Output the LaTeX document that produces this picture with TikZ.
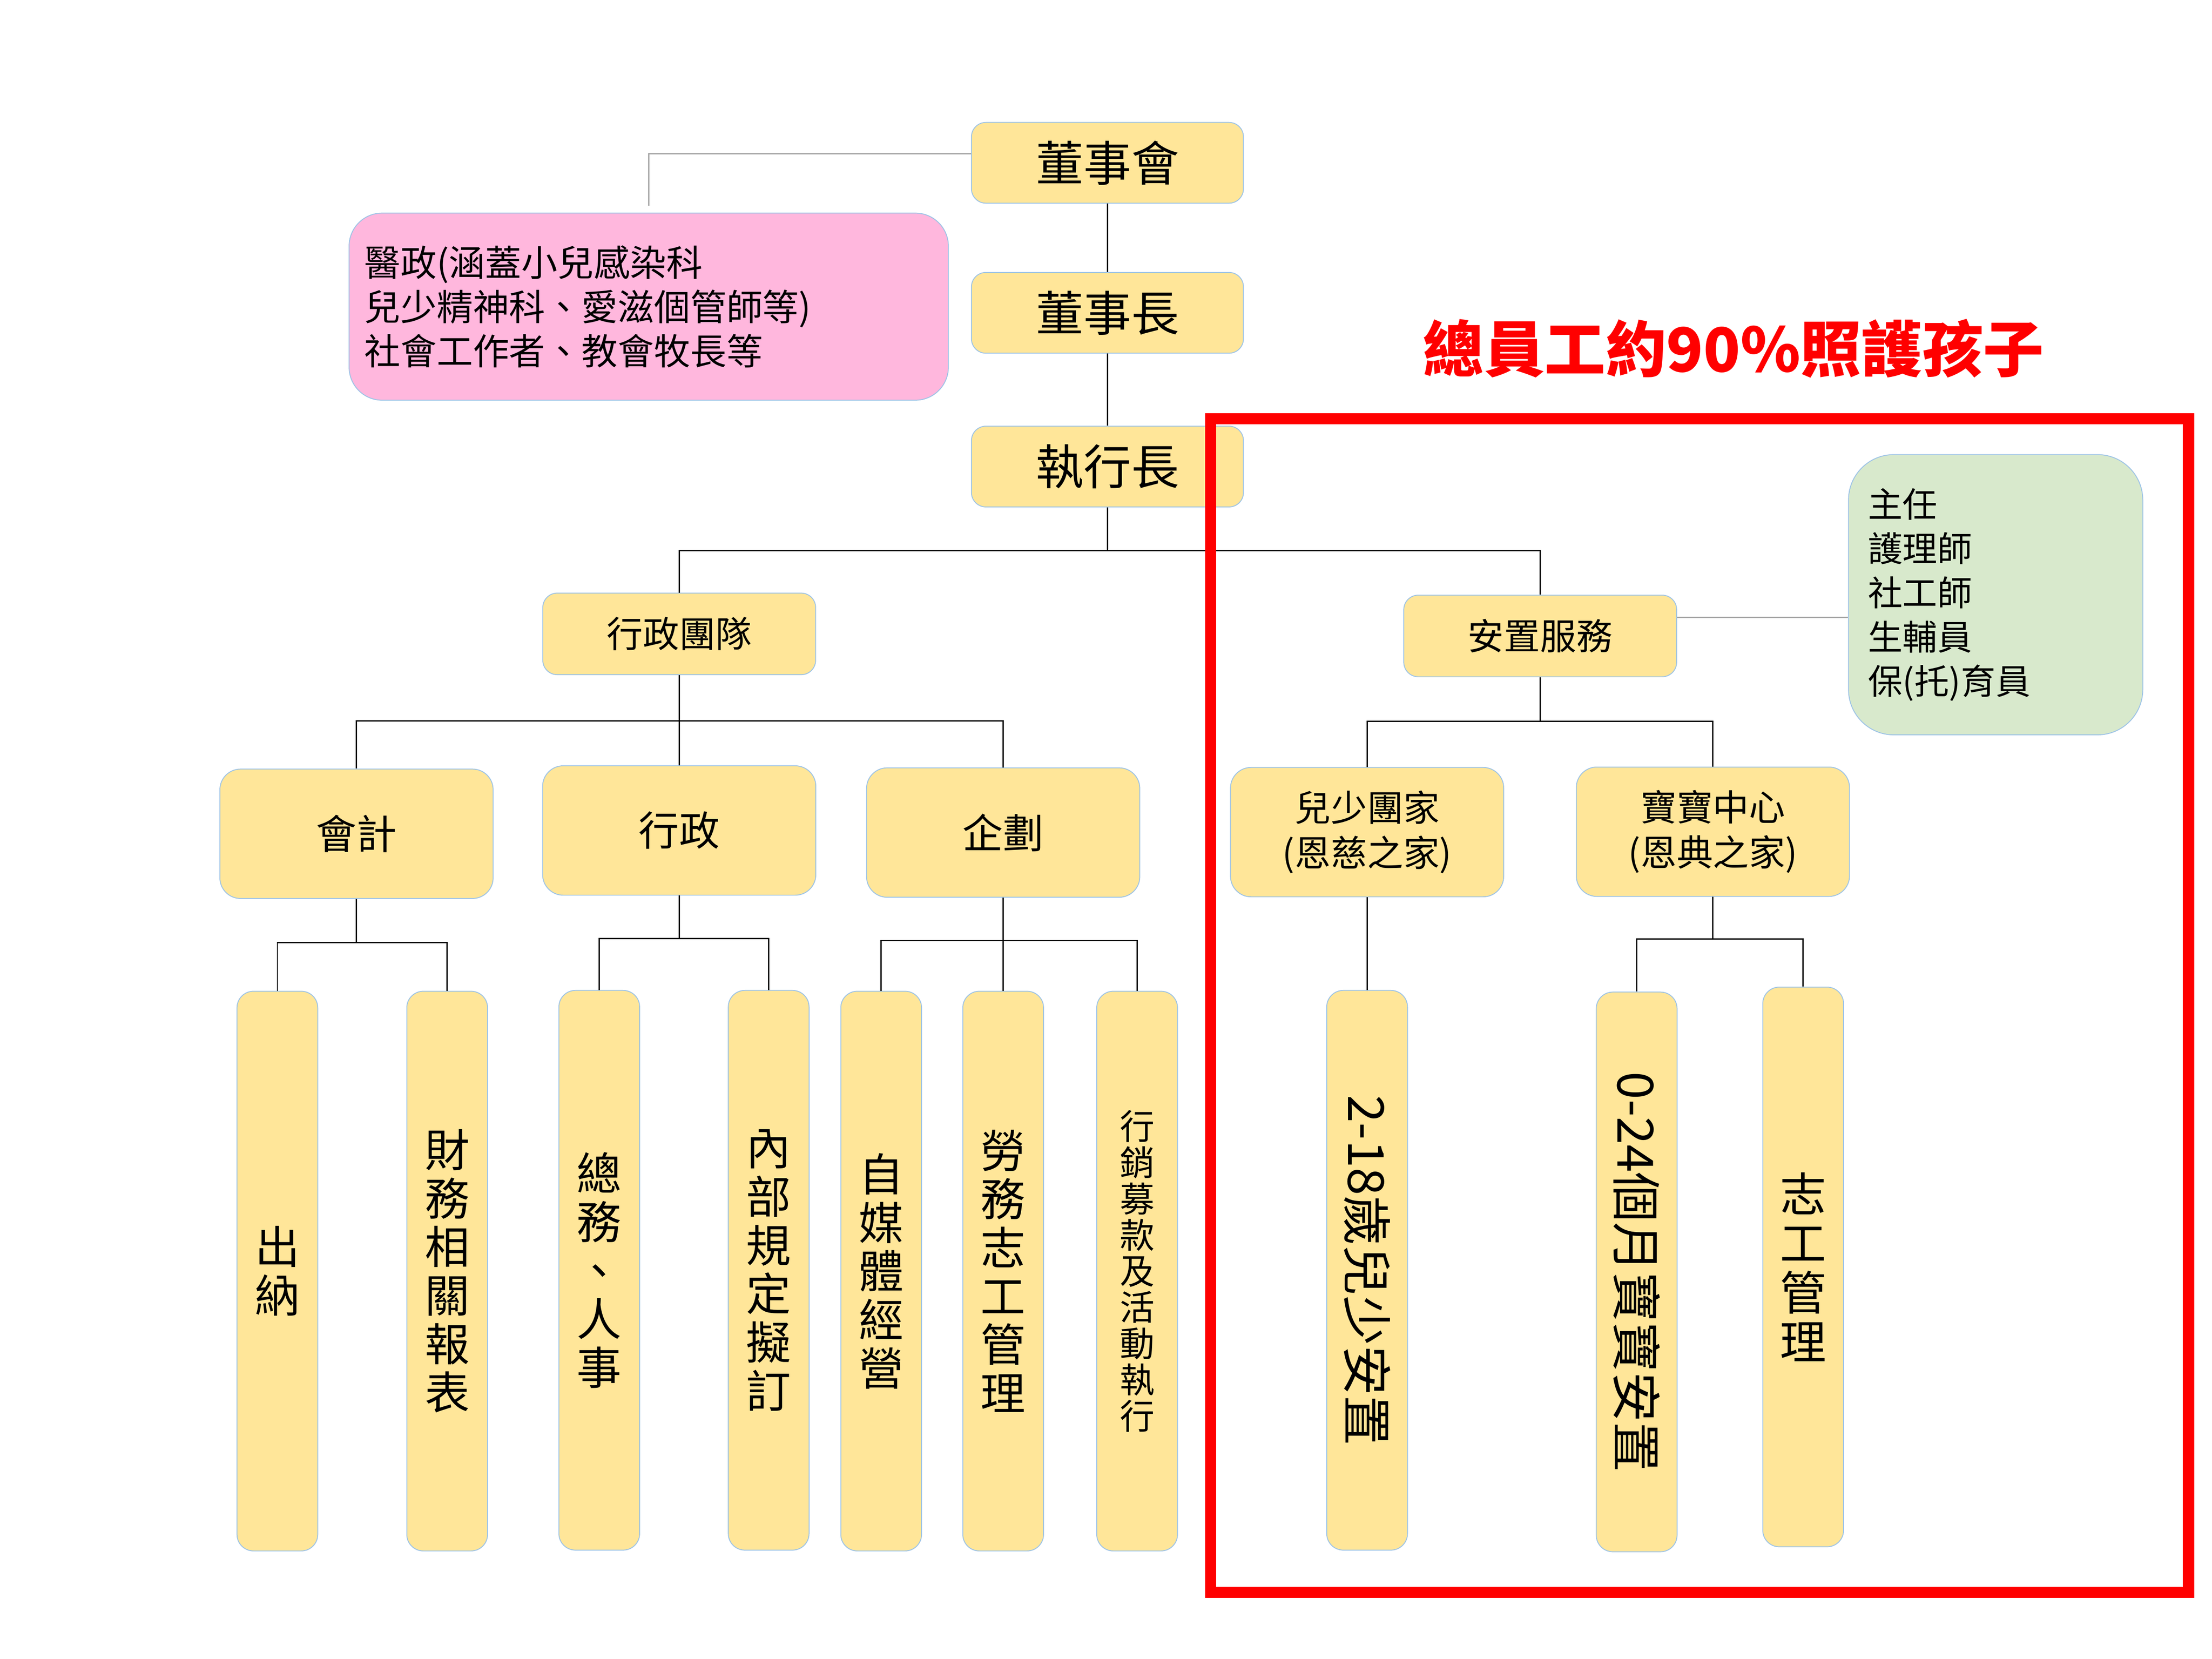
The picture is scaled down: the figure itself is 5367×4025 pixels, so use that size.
\documentclass[tikz,border=0pt]{standalone}
\usepackage{fontspec}
\setmainfont{Noto Sans CJK TC}

\definecolor{boxfill}{HTML}{FFE699}
\definecolor{boxedge}{HTML}{9DC3E6}
\definecolor{pinkfill}{HTML}{FFB7DD}
\definecolor{greenfill}{HTML}{D8E9CC}
\definecolor{linkgrey}{HTML}{A6A6A6}

\newcommand{\setfs}[2]{\fontsize{#1}{#2}\selectfont}

\begin{document}
\begin{tikzpicture}[
            x = 0.1mm, y = -0.1mm, % one unit = one pixel of the layout
            line width = 0.9pt % connector width
        ]

        \tikzstyle{unitbox}=[
            draw = boxedge,
            line width = 0.6pt,
            fill = boxfill,
            rounded corners = 3.5mm,
            inner sep = 0pt
        ]
        \tikzstyle{chiefbox}=[unitbox, minimum width = 66mm, minimum height = 19.6mm, font = \setfs{33}{36}]
        \tikzstyle{teambox}=[unitbox, minimum width = 66.2mm, minimum height = 19.8mm, font = \setfs{25}{30}]
        \tikzstyle{deptbox}=[unitbox, minimum width = 66.3mm, minimum height = 31.4mm, rounded corners = 5mm, align = center, font = \setfs{28}{31}]
        \tikzstyle{leafbox}=[unitbox, minimum width = 19.6mm, minimum height = 135.8mm, rounded corners = 4mm, align = center, font = \setfs{31}{33.5}]
        \tikzstyle{turnedbox}=[unitbox, rotate = -90, minimum width = 135.8mm, minimum height = 19.6mm, rounded corners = 4mm, font = \setfs{34.5}{36}]
        \tikzstyle{link}=[draw = black]
        \tikzstyle{greylink}=[draw = linkgrey]

        \useasboundingbox (0,0) rectangle (5367,4025);

        % top of the tree
        \node[chiefbox] (board) at (2687,395)  {董事會};
        \node[chiefbox] (chair) at (2687,759)  {董事長};
        \node[chiefbox] (ceo)   at (2687,1132) {執行長};

        \node[unitbox, fill = pinkfill, rounded corners = 8mm, minimum height = 45.4mm,
              text width = 138mm, inner xsep = 3.7mm, align = left, font = \setfs{25}{30.5}]
              (medical) at (1574,744) {醫政(涵蓋小兒感染科\\兒少精神科、愛滋個管師等)\\社會工作者、教會牧長等};

        \node[teambox] (admin) at (1648,1538) {行政團隊};
        \node[teambox] (place) at (3737,1543) {安置服務};

        \node[unitbox, fill = greenfill, rounded corners = 11mm, minimum height = 68mm,
              text width = 62mm, inner xsep = 4.7mm, align = left, font = \setfs{24}{30.5}]
              (care) at (4842,1443) {主任\\護理師\\社工師\\生輔員\\保(托)育員};

        % departments
        \node[deptbox] (acct)   at (865,2023)  {會計};
        \node[deptbox] (office) at (1648,2015) {行政};
        \node[deptbox] (plan)   at (2434,2020) {企劃};
        \node[deptbox, font = \setfs{25}{31}] (youth) at (3317,2019) {兒少團家\\(恩慈之家)};
        \node[deptbox, font = \setfs{25}{31}] (baby)  at (4156,2018) {寶寶中心\\(恩典之家)};

        % leaves
        \node[leafbox] (cash)    at (673,3084)  {出\\納};
        \node[leafbox] (finance) at (1085,3084) {財\\務\\相\\關\\報\\表};
        \node[leafbox] (general) at (1454,3082) {總\\務\\、\\人\\事};
        \node[leafbox] (rules)   at (1865,3082) {內\\部\\規\\定\\擬\\訂};
        \node[leafbox] (media)   at (2138,3084) {自\\媒\\體\\經\\營};
        \node[leafbox] (labor)   at (2434,3084) {勞\\務\\志\\工\\管\\理};
        \node[leafbox, font = \setfs{24}{25}] (market) at (2759,3084) {行\\銷\\募\\款\\及\\活\\動\\執\\行};
        \node[turnedbox] (teen)   at (3317,3082) {2-18歲兒少安置};
        \node[turnedbox] (infant) at (3971,3086) {0-24個月寶寶安置};
        \node[leafbox, font = \setfs{32}{34}] (volunteer) at (4375,3074) {志\\工\\管\\理};

        % bus levels
        \coordinate (ceobus)   at (2687,1336);
        \coordinate (adminbus) at (1648,1749);
        \coordinate (placebus) at (3737,1750);
        \coordinate (acctbus)  at (865,2287);
        \coordinate (officebus) at (1648,2277);
        \coordinate (planbus)  at (2434,2282);
        \coordinate (babybus)  at (4156,2278);

        \path[link] (board) edge (chair);
        \path[link] (chair) edge (ceo);
        \draw[greylink] ([yshift=2.2mm]board.west) -| ([yshift=1.7mm]medical.north);

        \draw[link] (ceo.south) -- (ceobus);
        \draw[link] (admin.north) |- (ceobus) -| (place.north);
        \draw[greylink] ([yshift=4.5mm]place.east) -- ([yshift=4.5mm]place.east -| care.west);

        \draw[link] (admin.south) -- (adminbus);
        \draw[link] (acct.north) |- (adminbus) -| (plan.north);
        \draw[link] (adminbus) -- (office.north);

        \draw[link] (place.south) -- (placebus);
        \draw[link] (youth.north) |- (placebus) -| (baby.north);

        \draw[link] (acct.south) -- (acctbus);
        \draw[link] (cash.north) |- (acctbus) -| (finance.north);

        \draw[link] (office.south) -- (officebus);
        \draw[link] (general.north) |- (officebus) -| (rules.north);

        \draw[link] (plan.south) -- (planbus);
        \draw[link] (media.north) |- (planbus) -| (market.north);
        \draw[link] (planbus) -- (labor.north);

        \path[link] (youth) edge (teen);

        \draw[link] (baby.south) -- (babybus);
        \draw[link] (infant.west) |- (babybus) -| (volunteer.north);

        % care staff frame
        \node[font = \setfs{42}{46}\bfseries, text = red] (headline) at (4206,845) {總員工約90\%照護孩子};
        \draw[red, line width = 2.7mm] (2937,1016) rectangle (5310,3864);
    \end{tikzpicture}
\end{document}
